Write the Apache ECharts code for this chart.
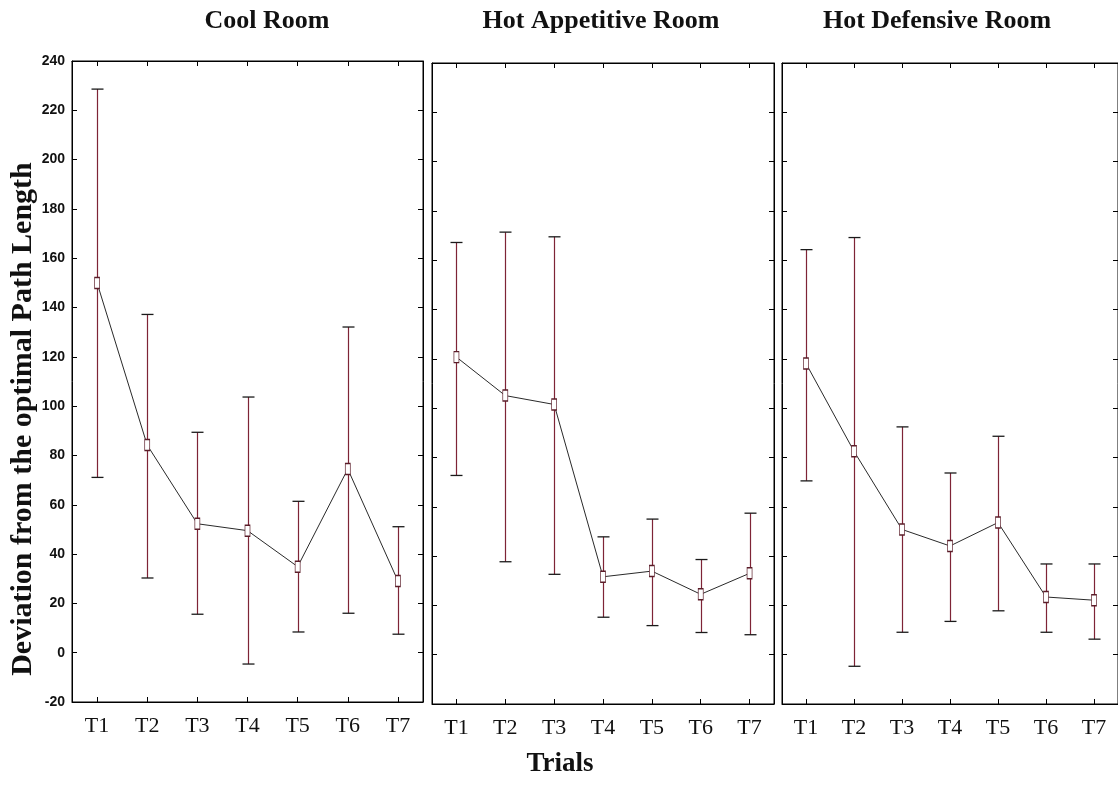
<!DOCTYPE html>
<html>
<head>
<meta charset="utf-8">
<script src="https://cdn.jsdelivr.net/npm/echarts@6/dist/echarts.min.js"></script>
<style>
html,body{margin:0;padding:0;background:#fff;}
#chart{width:1118px;height:798px;}
</style>
</head>
<body>
<div id="chart"></div>
<script>
// ---- data ----
var trials = ['T1','T2','T3','T4','T5','T6','T7'];
var panelTitles = ['Cool Room','Hot Appetitive Room','Hot Defensive Room'];
var yTicks = [-20,0,20,40,60,80,100,120,140,160,180,200,220,240];

var coolMean  = [150, 84.2, 52.3, 49.5, 34.9, 74.5, 29.1];
var coolUpper = [228.6, 137.2, 89.4, 103.7, 61.4, 132.1, 51.1];
var coolLower = [71.1, 30.3, 15.6, -4.6, 8.4, 16.0, 7.5];

var appMean  = [120.7, 105.1, 101.5, 31.6, 33.9, 24.5, 33.0];
var appUpper = [167.2, 171.4, 169.5, 47.8, 55.0, 38.6, 57.4];
var appLower = [72.7, 37.7, 32.6, 15.2, 11.8, 9.0, 8.1];

var defMean  = [118.1, 82.5, 50.8, 44.1, 53.6, 23.4, 22.1];
var defUpper = [164.3, 169.2, 92.4, 73.7, 88.6, 36.8, 36.8];
var defLower = [70.5, -4.7, 9.1, 13.5, 17.8, 9.1, 6.3];

var yAxisTitle = 'Deviation from the optimal Path Length';
var xAxisTitle = 'Trials';

// ---- layout / style ----
var panels = [
  {mean: coolMean, upper: coolUpper, lower: coolLower, left: 72, top: 61, width: 351, height: 641, tx: 267},
  {mean: appMean, upper: appUpper, lower: appLower, left: 432, top: 63, width: 342, height: 641, tx: 601},
  {mean: defMean, upper: defUpper, lower: defLower, left: 782, top: 63, width: 342, height: 641, tx: 937}
];
var serif = '"Liberation Serif","Times New Roman",serif';
var sans = '"Liberation Sans Narrow","Liberation Sans",Arial,sans-serif';
var barColor = '#7e2436';
var capColor = '#1a1a1a';

var grids = [], xAxes = [], yAxes = [], series = [], graphics = [];
var yMin = yTicks[0], yMax = yTicks[yTicks.length-1], yInt = yTicks[1]-yTicks[0];

panels.forEach(function(p, k){
  grids.push({left: p.left, top: p.top, width: p.width, height: p.height,
    show: true, borderColor: '#000', borderWidth: 1, containLabel: false});
  // bottom x axis (labels)
  xAxes.push({type: 'category', data: trials, gridIndex: k, position: 'bottom', boundaryGap: true,
    axisLine: {show: true, onZero: false, lineStyle: {color: '#000', width: 1}},
    axisTick: {show: true, inside: true, length: 5, alignWithLabel: true, lineStyle: {color: '#000'}},
    axisLabel: {show: true, color: '#111', fontFamily: serif, fontSize: 22, margin: 13},
    splitLine: {show: false}});
  // top x axis (ticks only)
  xAxes.push({type: 'category', data: trials, gridIndex: k, position: 'top', boundaryGap: true,
    axisLine: {show: true, onZero: false, lineStyle: {color: '#000', width: 1}},
    axisTick: {show: true, inside: true, length: 5, alignWithLabel: true, lineStyle: {color: '#000'}},
    axisLabel: {show: false}, splitLine: {show: false}});
  // left y axis
  yAxes.push({type: 'value', gridIndex: k, position: 'left', min: yMin, max: yMax, interval: yInt,
    axisLine: {show: true, onZero: false, lineStyle: {color: '#000', width: 1}},
    axisTick: {show: true, inside: true, length: 5, lineStyle: {color: '#000'}},
    axisLabel: {show: k === 0, color: '#111', fontFamily: sans, fontWeight: 'bold', fontSize: 14, margin: 7},
    splitLine: {show: false}});
  // right y axis (ticks only)
  yAxes.push({type: 'value', gridIndex: k, position: 'right', min: yMin, max: yMax, interval: yInt,
    axisLine: {show: true, onZero: false, lineStyle: {color: '#000', width: 1}},
    axisTick: {show: true, inside: true, length: 5, lineStyle: {color: '#000'}},
    axisLabel: {show: false}, splitLine: {show: false}});

  var errData = trials.map(function(t, i){ return [i, p.lower[i], p.upper[i]]; });
  series.push({
    type: 'custom', xAxisIndex: 2*k, yAxisIndex: 2*k, z: 2, silent: true,
    encode: {x: 0, y: [1, 2]},
    data: errData,
    renderItem: function(params, api){
      var lo = api.coord([api.value(0), api.value(1)]);
      var hi = api.coord([api.value(0), api.value(2)]);
      var cx = Math.round(lo[0]) + 0.5;
      var capHalf = 6;
      return {type: 'group', children: [
        {type: 'line', shape: {x1: cx, y1: hi[1], x2: cx, y2: lo[1]}, style: {stroke: barColor, lineWidth: 1.2}},
        {type: 'line', shape: {x1: cx - capHalf, y1: hi[1], x2: cx + capHalf, y2: hi[1]}, style: {stroke: capColor, lineWidth: 1.3}},
        {type: 'line', shape: {x1: cx - capHalf, y1: lo[1], x2: cx + capHalf, y2: lo[1]}, style: {stroke: capColor, lineWidth: 1.3}}
      ]};
    }
  });
  series.push({
    type: 'line', xAxisIndex: 2*k, yAxisIndex: 2*k, z: 5, data: p.mean,
    symbol: 'rect', symbolSize: [5, 11], showSymbol: true,
    lineStyle: {color: '#2a2a2a', width: 1},
    itemStyle: {color: '#ffffff', borderColor: '#5a1c28', borderWidth: 1},
    emphasis: {disabled: true}
  });

  graphics.push({type: 'text', x: p.tx, y: 21, style: {text: panelTitles[k], fill: '#111',
    font: 'bold 26px ' + serif, textAlign: 'center', textVerticalAlign: 'middle'}});
});

graphics.push({type: 'text', x: 23, y: 419, rotation: Math.PI/2,
  style: {text: yAxisTitle, fill: '#111', font: 'bold 30px ' + serif, textAlign: 'center', textVerticalAlign: 'middle'}});
graphics.push({type: 'text', x: 560, y: 764,
  style: {text: xAxisTitle, fill: '#111', font: 'bold 27px ' + serif, textAlign: 'center', textVerticalAlign: 'middle'}});

var chart = echarts.init(document.getElementById('chart'), null, {renderer: 'canvas'});
chart.setOption({
  animation: false,
  backgroundColor: '#fff',
  grid: grids, xAxis: xAxes, yAxis: yAxes, series: series, graphic: graphics
});
</script>
</body>
</html>
